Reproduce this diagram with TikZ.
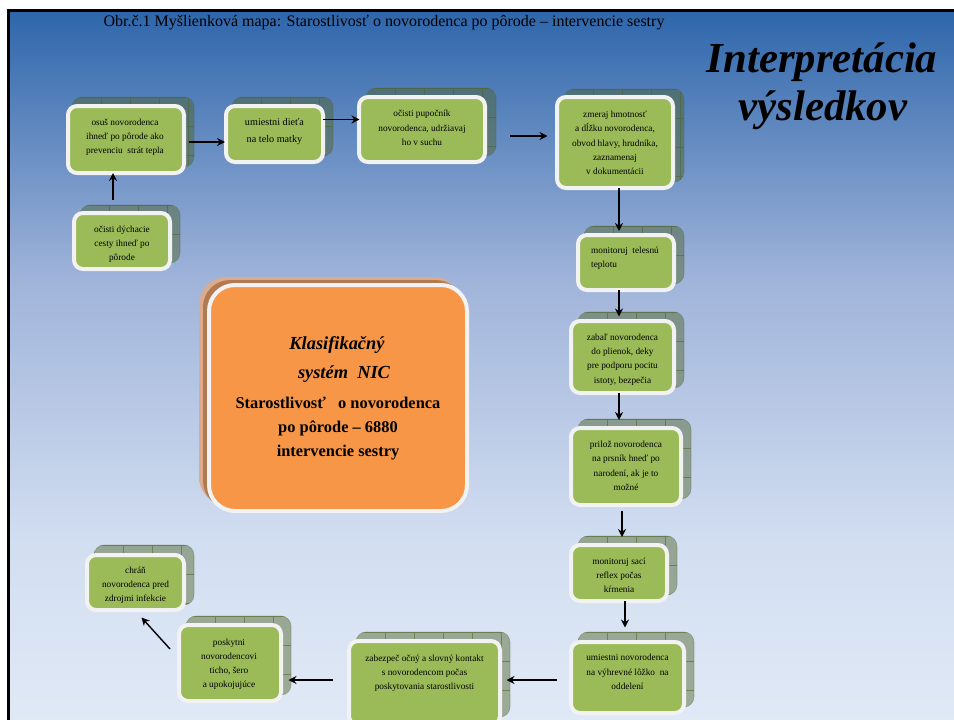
\documentclass[tikz,border=0pt]{standalone}
\usepackage{fontspec}
\setmainfont{Liberation Serif}
\usetikzlibrary{arrows.meta}
\definecolor{boxgreen}{HTML}{9BBB59}
\definecolor{boxorange}{HTML}{F79646}
\definecolor{shadegreen}{HTML}{4F6228}
\definecolor{stackpeach}{HTML}{DDAA8C}
\definecolor{stackbrown}{HTML}{B07A52}
\definecolor{framewhite}{HTML}{F2F2F2}
\definecolor{bga}{HTML}{E0E9F6}
\definecolor{bgb}{HTML}{D2DEF1}
\definecolor{bgc}{HTML}{A0B4DA}
\definecolor{bgd}{HTML}{2E66AB}
\pgfdeclareverticalshading{slidebg}{100bp}{
  color(0bp)=(bga);
  color(25bp)=(bga);
  color(37.5bp)=(bgb);
  color(56bp)=(bgc);
  color(75bp)=(bgd);
  color(100bp)=(bgd)}
\tikzset{
  x=1pt,y=-1pt,
  greenbox/.style={draw=framewhite,line width=4pt,fill=boxgreen,rounded corners=9pt,inner sep=0pt,text=black},
  orangebox/.style={draw=framewhite,line width=4pt,fill=boxorange,rounded corners=26pt,inner sep=0pt},
  stackshade/.style={fill=shadegreen,fill opacity=.46,draw=shadegreen,draw opacity=.35,line width=.6pt,rounded corners=10pt},
  stackgrid/.style={draw=shadegreen,line width=.4pt,draw opacity=.55},
  flow/.style={draw=black,line width=1.4pt,-{Stealth[length=8pt,width=8pt]}},
  bigtext/.style={inner sep=0pt,anchor=base,font=\fontsize{16.4}{18}\bfseries\selectfont},
  bigital/.style={inner sep=0pt,anchor=base,font=\fontsize{18.4}{20}\bfseries\itshape\selectfont},
  headtext/.style={inner sep=0pt,anchor=base,font=\fontsize{42.8}{48}\bfseries\itshape\selectfont},
}
% name, x0,y0,x1,y1, shadow x0,y0,x1,y1, dx,dy, column, line skip, font size, text
\newcommand{\mapbox}[9]{%
  \def\bxname{#1}\def\bxa{#2}\def\bxb{#3}\def\bxc{#4}\def\bxd{#5}%
  \def\sxa{#6}\def\sxb{#7}\def\sxc{#8}\def\sxd{#9}\mapboxrest}
\newcommand{\mapboxrest}[6]{%
  \fill[stackshade] (\sxa,\sxb) rectangle (\sxc,\sxd);
  \pgfmathsetmacro{\sw}{\sxc-\sxa}
  \pgfmathsetmacro{\sh}{\sxd-\sxb}
  \begin{scope}
    \clip[rounded corners=10pt] (\sxa,\sxb) rectangle (\sxc,\sxd);
    \begin{scope}[shift={(\sxa,\sxb)}]
      \draw[stackgrid,step=29pt] (0,0) grid (\sw,\sh);
    \end{scope}
  \end{scope}
  \pgfmathsetmacro{\gw}{\bxc-\bxa-4}
  \pgfmathsetmacro{\gh}{\bxd-\bxb-4}
  \pgfmathsetmacro{\gx}{(\bxa+\bxc)/2}
  \pgfmathsetmacro{\gy}{(\bxb+\bxd)/2}
  \node[greenbox,minimum width=\gw pt,minimum height=\gh pt] (\bxname) at (\gx,\gy)
   {\raisebox{\dimexpr#2pt-3pt\relax}[0pt][0pt]{\makebox[0pt]{\hspace{#1pt}\fontsize{#5}{#4}\selectfont\begin{tabular}{@{}#3@{}}#6\end{tabular}\hspace{-#1pt}}}};
}
\begin{document}
\begin{tikzpicture}
\useasboundingbox (0,0) rectangle (954,720);
\fill[white] (0,0) rectangle (954,720);
\path[shading=slidebg] (8.5,10.5) rectangle (954,720);
\draw[black,line width=2.6pt] (8.5,720) -- (8.5,10.5) -- (954,10.5);

\node[font=\fontsize{16}{18}\selectfont,text=black,inner sep=0pt,anchor=base] (title) at (384,26)
  {Obr.č.1 Myšlienková mapa: Starostlivosť o novorodenca po pôrode – intervencie sestry};
\node[headtext] (heada) at (822,72) {Interpretácia};
\node[headtext] (headb) at (823,120) {výsledkov};

% centre
\fill[stackpeach,rounded corners=28pt] (199,277) rectangle (461,505);
\fill[stackbrown,rounded corners=27pt] (203,280) rectangle (463,508);
\node[orangebox,minimum width=258pt,minimum height=226pt] (nic) at (338,398) {};
\node[bigital] (nica) at (337,349) {Klasifikačný};
\node[bigital] (nicb) at (344,378) {systém\ \ NIC};
\node[bigtext] (nicc) at (338,408.5) {Starostlivosť\ \ \ o novorodenca};
\node[bigtext] (nicd) at (338,432) {po pôrode – 6880};
\node[bigtext] (nice) at (338,456) {intervencie sestry};

\mapbox{b1}{66}{104}{186}{175}{72}{97}{194}{167}{-1}{3.5}{c}{14}{9.3}{osuš novorodenca\\ihneď po pôrode ako\\prevenciu\ \ strát tepla}
\mapbox{b2}{224}{104}{325}{164}{232}{97}{333}{156}{0}{4}{c}{17.5}{10.2}{umiestni dieťa\\na telo matky}
\mapbox{b3}{357}{95}{487}{164}{366}{88}{496}{156}{0}{2}{c}{14.4}{9.3}{očisti pupočník\\novorodenca, udržiavaj\\ho v suchu}
\mapbox{b4}{555}{95}{675}{190}{564}{89}{684}{182}{0}{0}{c}{14.3}{9.3}{zmeraj hmotnosť\\a dĺžku novorodenca,\\obvod hlavy, hrudníka,\\zaznamenaj\\v dokumentácii}
\mapbox{b5}{576}{233}{676}{292}{584}{226}{684}{284}{-1}{5.5}{l}{14.3}{9.3}{monitoruj\ \ telesnú\\teplotu}
\mapbox{b6}{569}{319}{676}{395}{578}{312}{684}{388}{0}{-1}{c}{14.3}{9.3}{zabaľ novorodenca\\do plienok, deky\\pre podporu pocitu\\istoty, bezpečia}
\mapbox{b7}{569}{426}{683}{507}{578}{419}{691}{499}{0}{1}{c}{14.3}{9.3}{prilož novorodenca\\na prsník hneď po\\narodení, ak je to\\možné}
\mapbox{b8}{569}{543}{669}{603}{578}{536}{677}{595}{0}{-2}{c}{14}{9.3}{monitoruj sací\\reflex počas\\kŕmenia}
\mapbox{b9}{569}{640}{686}{715}{578}{632}{694}{707}{0}{6}{c}{14.4}{9.3}{umiestni novorodenca\\na výhrevné lôžko\ \ na\\oddelení}
\mapbox{b10}{347}{639}{502}{727}{356}{632}{510}{717}{0}{11}{c}{14}{9.3}{zabezpeč očný a slovný kontakt\\s novorodencom počas\\poskytovania starostlivosti}
\mapbox{b11}{177}{623}{283}{703}{186}{616}{291}{695}{-1}{0}{c}{14}{9.3}{poskytni\\novorodencovi\\ticho, šero\\a upokojujúce}
\mapbox{b12}{85}{553}{186}{612}{94}{545}{194}{605}{0}{-1.5}{c}{14}{9.3}{chráň\\novorodenca pred\\zdrojmi infekcie}
\mapbox{b13}{72}{211}{172}{271}{80}{205}{180}{263}{0}{-2}{c}{14}{9.3}{očisti dýchacie\\cesty ihneď po\\pôrode}

% free ends of connectors (they stop short of the boxes, as printed)
\coordinate (s1) at (189,142);   \coordinate (e1) at (225,142);
\coordinate (s2) at (323,119.5); \coordinate (e2) at (359.5,119.5);
\coordinate (s3) at (510,136);   \coordinate (e3) at (547.5,136);
\coordinate (s4) at (619,188);   \coordinate (e4) at (619,231);
\coordinate (s5) at (619,290);   \coordinate (e5) at (619,316.5);
\coordinate (s6) at (619,393);   \coordinate (e6) at (619,420);
\coordinate (s7) at (622,511);   \coordinate (e7) at (622,537);
\coordinate (s8) at (625,601);   \coordinate (e8) at (625,627.5);
\coordinate (s9) at (557,680);   \coordinate (e9) at (506.5,680);
\coordinate (s10) at (333,680);  \coordinate (e10) at (288.5,680);
\coordinate (s11) at (170,649);  \coordinate (e11) at (141.5,617.5);
\coordinate (s12) at (113,200);  \coordinate (e12) at (113,173);
\draw[flow] (s1) -- (e1);
\draw[flow] (s2) -- (e2);
\draw[flow] (s3) -- (e3);
\draw[flow] (s4) -- (e4);
\draw[flow] (s5) -- (e5);
\draw[flow] (s6) -- (e6);
\draw[flow] (s7) -- (e7);
\draw[flow] (s8) -- (e8);
\draw[flow] (s9) -- (e9);
\draw[flow] (s10) -- (e10);
\draw[flow] (s11) -- (e11);
\draw[flow] (s12) -- (e12);
\end{tikzpicture}
\end{document}
